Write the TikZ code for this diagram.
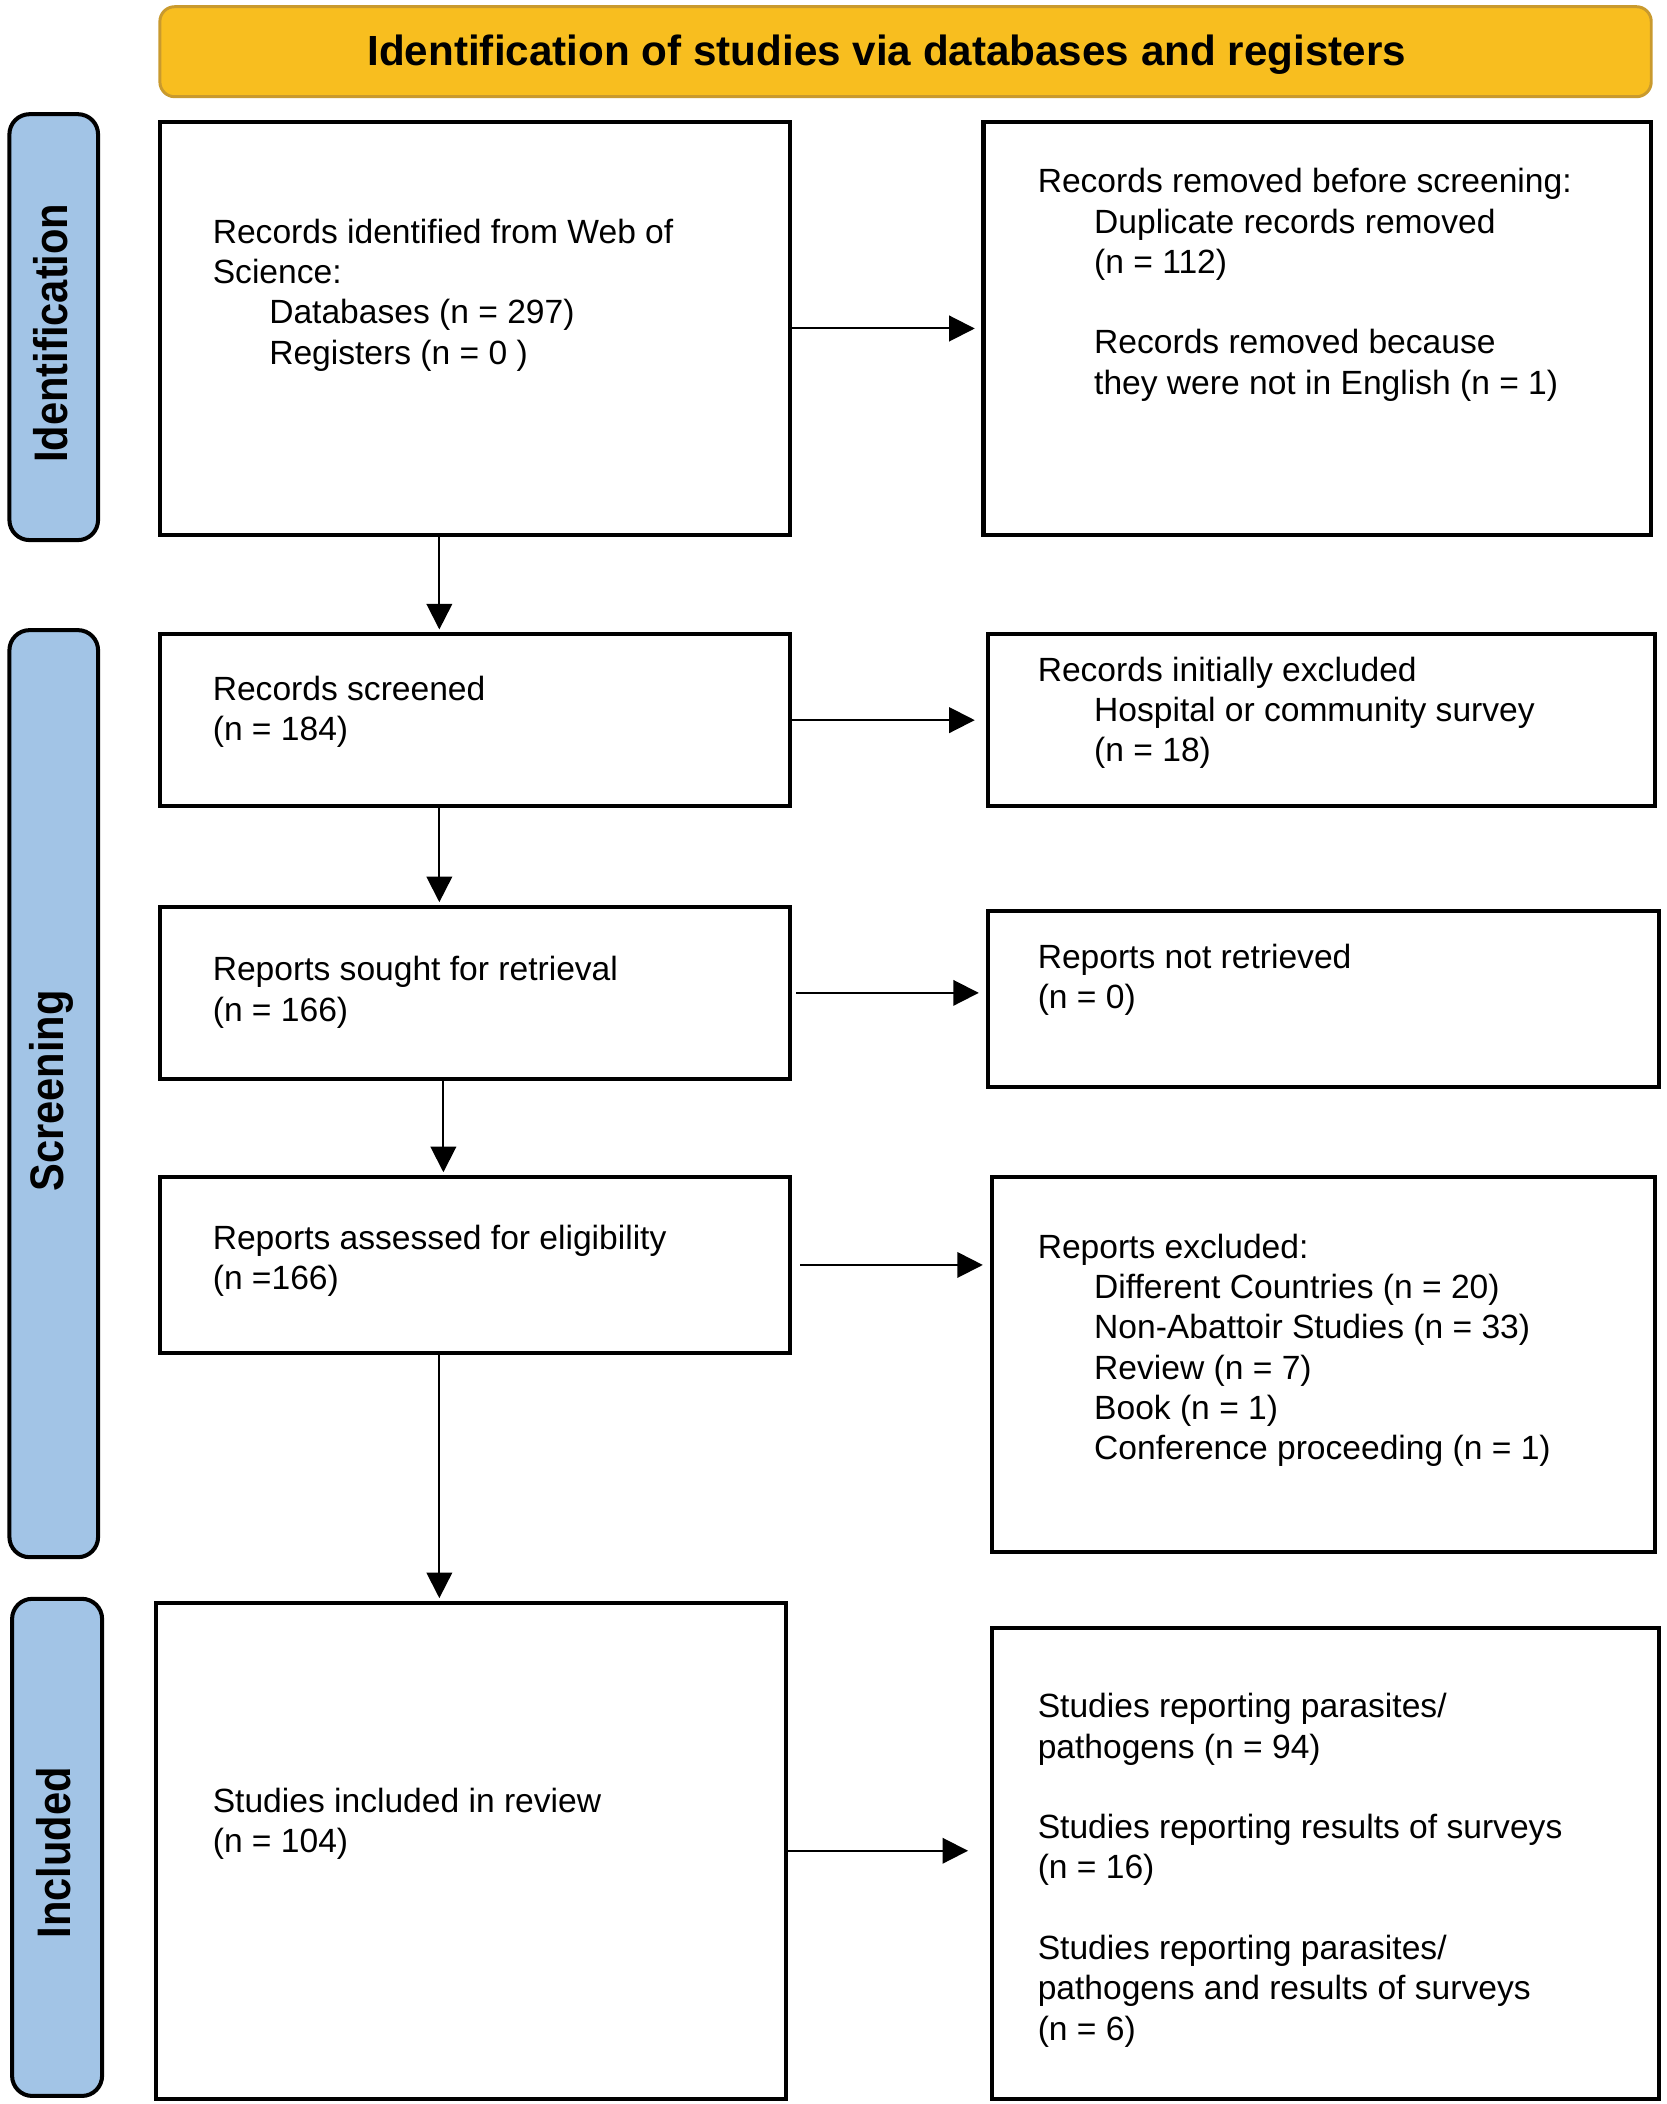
\documentclass[tikz,border=0pt]{standalone}
\usepackage{fontspec}
\setmainfont{Liberation Sans}
\usetikzlibrary{arrows.meta}
\definecolor{hdrfill}{HTML}{F8BE1F}
\definecolor{hdrline}{HTML}{C99A2E}
\definecolor{sidefill}{HTML}{A2C4E6}
\newcommand{\ind}{\hspace*{21pt}}
\tikzset{
  box/.style={draw=black, line width=1.5pt, fill=white, rectangle, inner sep=0pt},
  hdrbox/.style={draw=hdrline, line width=1.1pt, fill=hdrfill, rounded corners=5.5pt, inner sep=0pt},
  sidebox/.style={draw=black, line width=1.5pt, fill=sidefill, rounded corners=7.5pt, inner sep=0pt},
  txt/.style={anchor=west, inner sep=0pt, align=left, font=\fontsize{12.5}{15}\selectfont},
  hdrtxt/.style={inner sep=0pt, font=\fontsize{15.7}{18}\selectfont\bfseries},
  sidetxt/.style={inner sep=0pt, rotate=90, font=\fontsize{15.5}{18}\selectfont\bfseries},
  arr/.style={line width=0.75pt, -{Triangle[length=9.5pt,width=9.5pt]}}
}
\begin{document}
\begin{tikzpicture}[x=0.5pt, y=-0.5pt]
\useasboundingbox (0,0) rectangle (1240,1566);
% header
\node[hdrbox, minimum width=555pt, minimum height=33.5pt] (hdr) at (674,38.5) {};
\node[hdrtxt] (hdrt) at (660,41) {Identification of studies via databases and registers};
% side labels
\node[sidebox, minimum width=33pt, minimum height=158.5pt] (s1) at (40,243.5) {};
\node[sidebox, minimum width=33pt, minimum height=345pt] (s2) at (40,814) {};
\node[sidebox, minimum width=33.5pt, minimum height=185pt] (s3) at (42.5,1375) {};
\node[sidetxt] (s1t) at (38,248) {\scalebox{1}[1.13]{Identification}};
\node[sidetxt] (s2t) at (38,812) {\scalebox{1}[1.13]{Screening}};
\node[sidetxt] (s3t) at (40,1379) {\scalebox{1}[1.13]{Included}};
% boxes
\node[box, minimum width=234.5pt, minimum height=153.5pt] (b1) at (353.5,244.5) {};
\node[box, minimum width=248.5pt, minimum height=153.5pt] (r1) at (980.5,244.5) {};
\node[box, minimum width=234.5pt, minimum height=64pt] (b2) at (353.5,536) {};
\node[box, minimum width=248.5pt, minimum height=64pt] (r2) at (983.5,536) {};
\node[box, minimum width=234.5pt, minimum height=64pt] (b3) at (353.5,739) {};
\node[box, minimum width=250pt, minimum height=65.5pt] (r3) at (985,743.5) {};
\node[box, minimum width=234.5pt, minimum height=65.5pt] (b4) at (353.5,941.5) {};
\node[box, minimum width=247pt, minimum height=139.5pt] (r4) at (985,1015.5) {};
\node[box, minimum width=234.5pt, minimum height=184.5pt] (b5) at (350.5,1377.5) {};
\node[box, minimum width=248.5pt, minimum height=175pt] (r5) at (986.5,1387) {};
% texts
\node[txt] (t1) at (158,219.5) {Records identified from Web of\\Science:\\\ind Databases (n = 297)\\\ind Registers (n = 0 )};
\node[txt] (tr1) at (772,212) {Records removed before screening:\\\ind Duplicate records removed\\\ind (n = 112)\\[15pt]\ind Records removed because\\\ind they were not in English (n = 1)};
\node[txt] (t2) at (158,530) {Records screened\\(n = 184)};
\node[txt] (tr2) at (772,530.5) {Records initially excluded\\\ind Hospital or community survey\\\ind (n = 18)};
\node[txt] (t3) at (158,738.5) {Reports sought for retrieval\\(n = 166)};
\node[txt] (tr3) at (772,729.5) {Reports not retrieved\\(n = 0)};
\node[txt] (t4) at (158,938.5) {Reports assessed for eligibility\\(n =166)};
\node[txt] (tr4) at (772,1005) {Reports excluded:\\\ind Different Countries (n = 20)\\\ind Non-Abattoir Studies (n = 33)\\\ind Review (n = 7)\\\ind Book (n = 1)\\\ind Conference proceeding (n = 1)};
\node[txt] (t5) at (158,1357.5) {Studies included in review\\(n = 104)};
\node[txt] (tr5) at (772,1392) {Studies reporting parasites/\\pathogens (n = 94)\\[15pt]Studies reporting results of surveys\\(n = 16)\\[15pt]Studies reporting parasites/\\pathogens and results of surveys\\(n = 6)};
% horizontal arrows
\draw[arr, shorten >=2.5pt] (b1.east) -- (b1.east -| r1.west);
\draw[arr, shorten >=4pt] (b2.east) -- (b2.east -| r2.west);
\draw[arr, shorten <=1.5pt, shorten >=2.5pt] (b3.east) -- (b3.east -| r3.west);
\draw[arr, shorten <=3pt, shorten >=2.5pt] (b4.east) -- (b4.east -| r4.west);
\draw[arr, shorten >=8pt] (b5.east) -- (b5.east -| r5.west);
% vertical arrows
\coordinate (vx1) at (327,0);
\coordinate (vx2) at (330,0);
\draw[arr, shorten >=1pt] (b1.south -| vx1) -- (b2.north -| vx1);
\draw[arr, shorten >=1pt] (b2.south -| vx1) -- (b3.north -| vx1);
\draw[arr, shorten >=1pt] (b3.south -| vx2) -- (b4.north -| vx2);
\draw[arr, shorten >=1pt] (b4.south -| vx1) -- (b5.north -| vx1);
\end{tikzpicture}
\end{document}
